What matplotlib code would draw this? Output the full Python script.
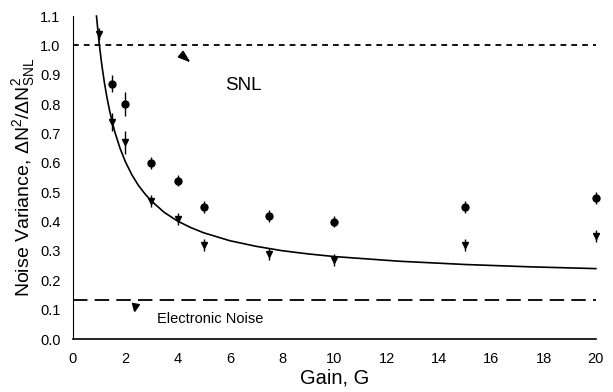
import matplotlib
matplotlib.use("Agg")
import math
import matplotlib.pyplot as plt

plt.rcParams['font.family'] = ['Liberation Sans', 'DejaVu Sans']
plt.rcParams['mathtext.fontset'] = 'custom'
plt.rcParams['mathtext.rm'] = 'Liberation Sans'
plt.rcParams['mathtext.it'] = 'Liberation Sans'

# data
gain_circ = [1.5, 2, 3, 4, 5, 7.5, 10, 15, 20]
var_circ = [0.87, 0.80, 0.60, 0.54, 0.45, 0.42, 0.40, 0.45, 0.48]
err_circ = [0.03, 0.04, 0.02, 0.02, 0.02, 0.02, 0.02, 0.02, 0.02]

gain_tri = [1, 1.5, 2, 3, 4, 5, 7.5, 10, 15, 20]
var_tri = [1.04, 0.74, 0.67, 0.47, 0.41, 0.32, 0.29, 0.27, 0.32, 0.35]
err_tri = [0.02, 0.03, 0.04, 0.02, 0.02, 0.02, 0.02, 0.02, 0.02, 0.02]

gain_curve = [0.9, 1.0, 1.1, 1.2, 1.3, 1.4, 1.5, 1.6, 1.8, 2.0, 2.25, 2.5, 2.75, 3.0, 3.5, 4.0,
              4.5, 5.0, 6.0, 7.0, 8.0, 9.0, 10.0, 12.5, 15.0, 17.5, 20.0]
var_curve = [1.10, 1.01, 0.936, 0.875, 0.823, 0.779, 0.74, 0.706, 0.65, 0.605, 0.56, 0.524,
             0.495, 0.47, 0.431, 0.402, 0.38, 0.362, 0.335, 0.316, 0.301, 0.29, 0.281,
             0.265, 0.254, 0.246, 0.24]

snl_level = 1.0
elec_level = 0.133

xticks = list(range(0, 21, 2))
yticks = [i / 10 for i in range(0, 12)]

fig = plt.figure(figsize=(6.13, 3.92), dpi=100)
ax = fig.add_axes([0.119, 0.135, 0.853, 0.824])

ax.plot([0, 20], [snl_level, snl_level], color='black', lw=1.3, ls=(0, (3.2, 2.8)))
ax.plot([0, 20], [elec_level, elec_level], color='black', lw=1.3, ls=(0, (8, 4)))

ax.plot(gain_curve, var_curve, color='black', lw=1.2, clip_on=False)

ax.errorbar(gain_circ, var_circ, yerr=err_circ, fmt='o', color='black', ms=5,
            elinewidth=1.0, capsize=0, clip_on=False)
ax.errorbar(gain_tri, var_tri, yerr=err_tri, fmt='v', color='black', ms=5,
            elinewidth=1.0, capsize=0, clip_on=False)


def arrowhead(deg, half_width):
    ang = math.radians(deg)
    dx, dy = math.cos(ang), math.sin(ang)
    px, py = -dy, dx
    return [(dx, dy), (-0.5 * dx + half_width * px, -0.5 * dy + half_width * py),
            (-0.5 * dx - half_width * px, -0.5 * dy - half_width * py), (dx, dy)]


ax.plot([4.2], [0.963], marker=arrowhead(-40, 0.5), color='black', ms=8, ls='none')
ax.plot([2.37], [0.114], marker=arrowhead(-100, 0.7), color='black', ms=7, ls='none')

ax.text(6.5, 0.864, 'SNL', fontsize=13.5, ha='center', va='center')
ax.text(5.24, 0.068, 'Electronic Noise', fontsize=10.5, ha='center', va='center')

ax.set_xlim(0, 20)
ax.set_ylim(0, 1.1)
ax.set_xticks(xticks)
ax.set_yticks(yticks)
ax.set_yticklabels([f'{v:.1f}' for v in yticks])
ax.tick_params(length=0, labelsize=10.5)
ax.tick_params(axis='y', pad=9)
ax.tick_params(axis='x', pad=9)
for s in ['top', 'right']:
    ax.spines[s].set_visible(False)
ax.spines['left'].set_linewidth(0.8)
ax.spines['bottom'].set_linewidth(1.2)

ax.set_xlabel('Gain, G', fontsize=14.5, labelpad=2)
ax.set_ylabel(r'Noise Variance, $\Delta$N$^2$/$\Delta$N$^2_{\rm SNL}$', fontsize=14)
ax.yaxis.set_label_coords(-0.068, 0.5)

fig.savefig('out.png', dpi=100)
